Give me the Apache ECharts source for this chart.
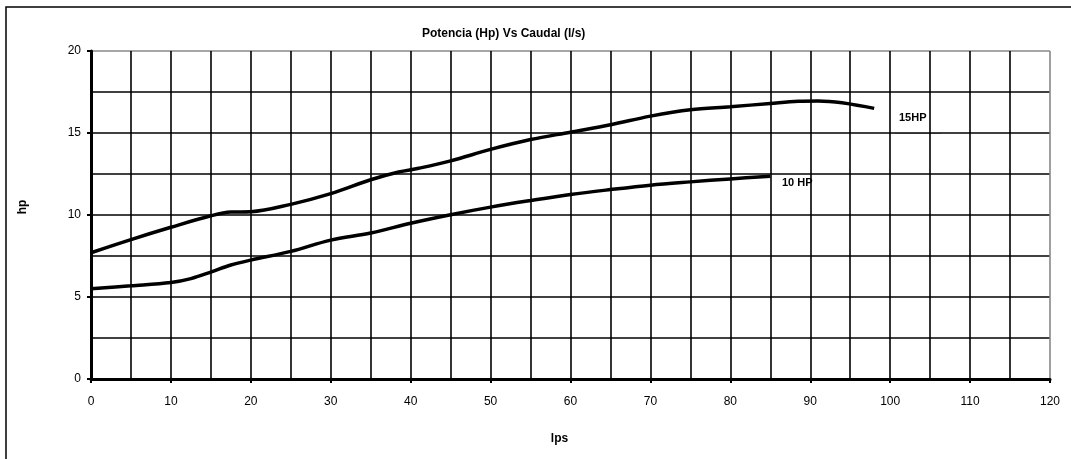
<!DOCTYPE html>
<html>
<head>
<meta charset="utf-8">
<script src="https://cdn.jsdelivr.net/npm/echarts@6/dist/echarts.min.js"></script>
<style>
  html, body { margin: 0; padding: 0; background: #fff; }
  #chart { width: 1071px; height: 459px; }
</style>
</head>
<body>
<div id="chart"></div>
<script>
const FONT = '"Liberation Sans Narrow", "Arial Narrow", "Liberation Sans", Arial, sans-serif';

// caudal (l/s) vs potencia (hp)
const hp15 = [
  [0, 7.7], [5, 8.5], [10, 9.25], [15, 9.95], [17.5, 10.18], [20, 10.2],
  [25, 10.65], [30, 11.3], [35, 12.15], [38.5, 12.62], [41, 12.85], [45, 13.3],
  [50, 14.0], [55, 14.6], [60, 15.05], [65, 15.5], [70, 16.03], [75, 16.42],
  [80, 16.6], [85, 16.8], [88.5, 16.93], [91, 16.95], [98, 16.5]
];
const hp10 = [
  [0, 5.5], [5, 5.68], [10, 5.88], [12.5, 6.12], [15, 6.52], [17.5, 6.95],
  [20, 7.25], [25, 7.78], [30, 8.47], [35, 8.9], [40, 9.5], [45, 10.02],
  [50, 10.48], [55, 10.88], [60, 11.25], [65, 11.55], [70, 11.82], [75, 12.02],
  [80, 12.2], [85, 12.36]
];
const xTicks = [0, 10, 20, 30, 40, 50, 60, 70, 80, 90, 100, 110, 120];
const yTicks = [0, 5, 10, 15, 20];

const chart = echarts.init(document.getElementById('chart'));

const xSplitColors = xTicks.map((v, i) => i === xTicks.length - 1 ? '#888' : '#000');
const ySplitColors = yTicks.map((v, i) => i === yTicks.length - 1 ? '#888' : '#000');

chart.setOption({
  animation: false,
  backgroundColor: '#fff',
  title: {
    text: 'Potencia (Hp) Vs Caudal (l/s)',
    left: 417,
    top: 23,
    textStyle: { fontFamily: FONT, fontSize: 12, fontWeight: 'bold', color: '#000' }
  },
  grid: { left: 91, right: 21, top: 51, bottom: 80 },
  xAxis: {
    type: 'value',
    min: 0, max: 120, interval: 10,
    name: 'lps',
    nameLocation: 'middle',
    nameGap: 54,
    nameTextStyle: { fontFamily: FONT, fontSize: 12, fontWeight: 'bold', color: '#000', padding: [0, 0, 0, -22] },
    axisLine: { lineStyle: { color: '#000', width: 3 } },
    axisTick: { show: true, length: 4, lineStyle: { color: '#000', width: 2 } },
    axisLabel: { fontFamily: FONT, fontSize: 12, color: '#000', margin: 17 },
    splitLine: { show: true, lineStyle: { color: xSplitColors, width: 1.6 } },
    minorTick: { show: false, splitNumber: 2 },
    minorSplitLine: { show: true, lineStyle: { color: '#000', width: 1.6 } }
  },
  yAxis: {
    type: 'value',
    min: 0, max: 20, interval: 5,
    axisLine: { show: true, lineStyle: { color: '#000', width: 3 } },
    axisTick: { show: true, length: 4, lineStyle: { color: '#000', width: 2 } },
    axisLabel: { fontFamily: FONT, fontSize: 12, color: '#000', margin: 10 },
    splitLine: { show: true, lineStyle: { color: ySplitColors, width: 1.6 } },
    minorTick: { show: false, splitNumber: 2 },
    minorSplitLine: { show: true, lineStyle: { color: '#000', width: 1.6 } }
  },
  series: [
    {
      name: '15HP', type: 'line', data: hp15, smooth: 0.35, showSymbol: false,
      lineStyle: { color: '#000', width: 3.5 }, z: 3
    },
    {
      name: '10 HP', type: 'line', data: hp10, smooth: 0.35, showSymbol: false,
      lineStyle: { color: '#000', width: 3.5 }, z: 3
    }
  ],
  graphic: [
    {
      type: 'rect', z: 0, silent: true,
      shape: { x: 6, y: 7, width: 1100, height: 500 },
      style: { fill: 'none', stroke: '#000', lineWidth: 1.5 }
    },
    {
      type: 'text', x: 23, y: 207, rotation: Math.PI / 2, silent: true,
      style: { text: 'hp', font: 'bold 12px ' + FONT, fill: '#000', align: 'center', verticalAlign: 'middle' }
    },
    {
      type: 'group', x: 895, y: 107, z: 10,
      children: [
        { type: 'rect', shape: { x: 0, y: 0, width: 46, height: 27 }, style: { fill: '#fff' } },
        { type: 'line', shape: { x1: 0, y1: 26.5, x2: 46, y2: 26.5 }, style: { stroke: '#bbb', lineWidth: 1 } },
        { type: 'text', x: 4, y: 5,
          style: { text: '15HP', font: 'bold 11px ' + FONT, fill: '#000' } }
      ]
    },
    {
      type: 'group', x: 774, y: 170, z: 10,
      children: [
        { type: 'rect', shape: { x: 0, y: 0, width: 57, height: 24 }, style: { fill: '#fff' } },
        { type: 'text', x: 8, y: 7,
          style: { text: '10 HP', font: 'bold 11px ' + FONT, fill: '#000' } }
      ]
    }
  ]
});

window.addEventListener('resize', () => chart.resize());
</script>
</body>
</html>
